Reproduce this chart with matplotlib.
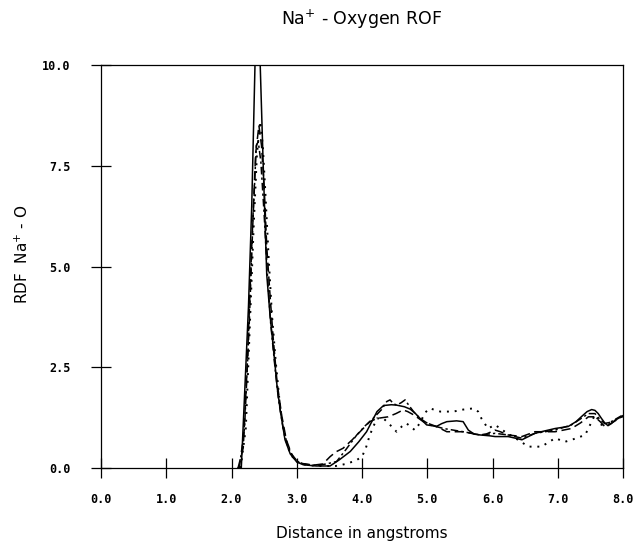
import matplotlib
matplotlib.use("Agg")
import matplotlib.pyplot as plt

# ---- data ----
solid_x = [2.10, 2.15, 2.20, 2.26, 2.31, 2.36, 2.40, 2.44, 2.49, 2.54, 2.59, 2.64, 2.70, 2.75, 2.82, 2.90,
           3.00, 3.10, 3.30, 3.51, 3.65, 3.82, 3.95, 4.07, 4.15, 4.23, 4.33, 4.45, 4.53, 4.65, 4.74, 4.82,
           4.89, 4.99, 5.07, 5.14, 5.22, 5.30, 5.45, 5.55, 5.63, 5.72, 5.81, 5.95, 6.04, 6.24, 6.35, 6.45,
           6.55, 6.65, 6.80, 6.96, 7.16, 7.28, 7.36, 7.45, 7.52, 7.57, 7.62, 7.67, 7.72, 7.77, 7.82, 7.88,
           7.95, 8.00]
solid_y = [0.0, 0.0, 1.8, 4.0, 6.5, 10.0, 11.5, 10.0, 7.3, 4.8, 3.8, 3.0, 2.0, 1.4, 0.7, 0.35,
           0.15, 0.08, 0.05, 0.05, 0.20, 0.41, 0.65, 0.90, 1.15, 1.40, 1.55, 1.57, 1.56, 1.52, 1.46, 1.35,
           1.23, 1.07, 1.05, 1.03, 1.10, 1.15, 1.17, 1.15, 0.94, 0.84, 0.82, 0.80, 0.78, 0.78, 0.74, 0.70,
           0.78, 0.86, 0.92, 0.98, 1.03, 1.15, 1.27, 1.40, 1.45, 1.43, 1.35, 1.23, 1.12, 1.05, 1.10, 1.19,
           1.25, 1.28]

dashed_x = [2.10, 2.18, 2.24, 2.31, 2.37, 2.42, 2.46, 2.50, 2.54, 2.59, 2.64, 2.70, 2.77, 2.84, 2.92,
            3.00, 3.10, 3.25, 3.40, 3.51, 3.60, 3.71, 3.85, 4.00, 4.12, 4.23, 4.40, 4.52, 4.63, 4.70,
            4.79, 4.94, 5.14, 5.30, 5.55, 5.81, 5.90, 6.04, 6.12, 6.24, 6.45, 6.65, 6.96, 7.21, 7.35,
            7.47, 7.57, 7.65, 7.72, 7.82, 7.98, 8.00]
dashed_y = [0.0, 0.5, 2.5, 5.5, 7.8, 8.5, 8.0, 7.0, 5.5, 4.3, 3.2, 2.1, 1.3, 0.7, 0.35,
            0.18, 0.10, 0.07, 0.10, 0.28, 0.40, 0.49, 0.70, 0.95, 1.15, 1.23, 1.27, 1.35, 1.44, 1.40,
            1.32, 1.15, 1.03, 0.90, 0.90, 0.82, 0.84, 0.94, 0.90, 0.82, 0.78, 0.90, 0.90, 0.98, 1.12,
            1.27, 1.27, 1.15, 1.03, 1.11, 1.27, 1.28]

dashdot_x = [2.12, 2.20, 2.27, 2.33, 2.38, 2.41, 2.45, 2.50, 2.55, 2.60, 2.66, 2.72, 2.79, 2.86, 2.95,
             3.05, 3.30, 3.45, 3.61, 3.75, 3.92, 4.05, 4.17, 4.30, 4.38, 4.43, 4.48, 4.53, 4.60, 4.66,
             4.72, 4.79, 4.89, 5.04, 5.25, 5.55, 5.81, 6.04, 6.24, 6.45, 6.65, 6.96, 7.21, 7.35, 7.47,
             7.57, 7.65, 7.72, 7.82, 7.98]
dashdot_y = [0.0, 1.0, 3.5, 6.2, 8.0, 8.1, 7.6, 6.3, 4.8, 3.6, 2.6, 1.7, 1.0, 0.55, 0.25,
             0.12, 0.06, 0.10, 0.16, 0.45, 0.82, 1.05, 1.23, 1.45, 1.65, 1.69, 1.60, 1.56, 1.62, 1.69,
             1.55, 1.40, 1.23, 1.07, 0.98, 0.90, 0.82, 0.86, 0.82, 0.74, 0.86, 0.94, 1.07, 1.22, 1.35,
             1.35, 1.20, 1.10, 1.15, 1.30]

dotted_x = [2.14, 2.22, 2.28, 2.34, 2.39, 2.44, 2.48, 2.52, 2.57, 2.62, 2.68, 2.74, 2.80, 2.88, 2.96,
            3.05, 3.30, 3.60, 3.75, 3.90, 4.00, 4.06, 4.12, 4.18, 4.23, 4.33, 4.43, 4.53, 4.61, 4.68,
            4.75, 4.81, 4.86, 4.91, 4.97, 5.04, 5.20, 5.40, 5.55, 5.71, 5.78, 5.83, 5.93, 6.04, 6.19,
            6.39, 6.55, 6.75, 6.96, 7.11, 7.25, 7.42, 7.52, 7.57, 7.62, 7.67, 7.77, 7.93, 8.00]
dotted_y = [0.0, 1.0, 3.5, 6.0, 7.8, 8.6, 8.0, 6.8, 5.2, 3.8, 2.6, 1.6, 0.9, 0.45, 0.20,
            0.10, 0.05, 0.05, 0.10, 0.18, 0.28, 0.50, 0.82, 1.05, 1.23, 1.23, 1.07, 0.90, 1.03, 1.11,
            1.02, 0.94, 1.05, 1.19, 1.38, 1.48, 1.40, 1.40, 1.45, 1.48, 1.40, 1.23, 0.98, 1.07, 0.90,
            0.70, 0.53, 0.53, 0.74, 0.65, 0.72, 0.82, 1.15, 1.32, 1.20, 1.07, 1.11, 1.23, 1.30]

x_ticks = [0, 1, 2, 3, 4, 5, 6, 7, 8]
x_ticklabels = ["0.0", "1.0", "2.0", "3.0", "4.0", "5.0", "6.0", "7.0", "8.0"]
y_ticks = [0, 2.5, 5, 7.5, 10]
y_ticklabels = ["0.0", "2.5", "5.0", "7.5", "10.0"]

title = "Na$^{+}$ - Oxygen ROF"
xlabel = "Distance in angstroms"
ylabel = "RDF  Na$^{+}$ - O"

# ---- figure ----
W, H = 635, 543
fig = plt.figure(figsize=(W / 100, H / 100), dpi=100)
ax = fig.add_axes([101 / W, 1 - 468 / H, (623 - 101) / W, (468 - 65) / H])

lw = 1.1
ax.plot(solid_x, solid_y, color="black", lw=lw, linestyle="-")
ax.plot(dashed_x, dashed_y, color="black", lw=lw, linestyle=(0, (6, 3)))
ax.plot(dashdot_x, dashdot_y, color="black", lw=lw, linestyle=(0, (5, 2, 1.5, 2)))
ax.plot(dotted_x, dotted_y, color="black", lw=1.4, linestyle=(0, (1, 3)))

ax.set_xlim(0, 8)
ax.set_ylim(0, 10)

for s in ax.spines.values():
    s.set_linewidth(0.9)
    s.set_color("black")

tickfont = dict(family="DejaVu Sans Mono", weight="bold", size=8.5)
ax.set_xticks(x_ticks)
ax.set_xticklabels(x_ticklabels, fontdict=tickfont)
ax.set_yticks(y_ticks)
ax.set_yticklabels(y_ticklabels, fontdict=tickfont)
ax.tick_params(axis="both", direction="inout", length=14, width=0.9, color="black")
ax.tick_params(axis="x", pad=11)
ax.tick_params(axis="y", pad=15)

ax.set_xlabel(xlabel, fontsize=11, family="DejaVu Sans")
ax.xaxis.set_label_coords(0.5, -0.145)
ax.set_ylabel(ylabel, fontsize=11, family="DejaVu Sans")
ax.yaxis.set_label_coords(-0.135, 0.53)

fig.text(362 / W, 1 - 19 / H, title, ha="center", va="center", fontsize=12.5, family="DejaVu Sans")

fig.savefig("out.png", dpi=100, facecolor="white")
